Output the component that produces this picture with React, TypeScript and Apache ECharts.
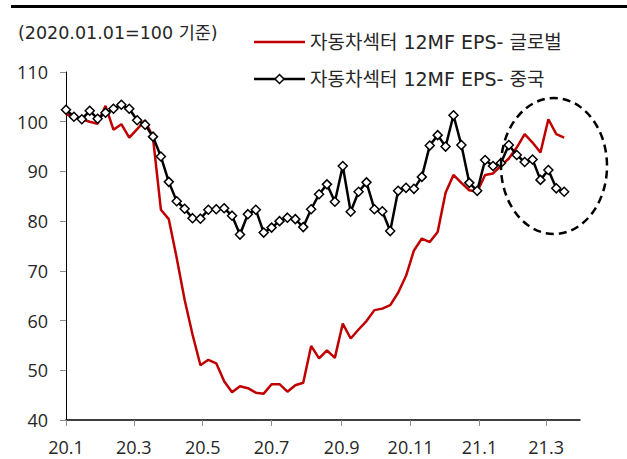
import React, { useEffect, useRef } from "react";
import * as echarts from "echarts";

// weekly observations starting 2020-01-01
const weekCount = 64;
const globalEPS = [
  101.5, 101.0, 100.5, 100.0, 99.6, 103.2, 98.4, 99.5, 96.8, 98.5,
  100.3, 96.8, 82.3, 80.4, 72.6, 64.2, 57.2, 51.0, 52.1, 51.4,
  47.8, 45.6, 46.8, 46.4, 45.5, 45.3, 47.2, 47.2, 45.7, 47.0,
  47.5, 54.9, 52.4, 54.0, 52.5, 59.4, 56.4, 58.2, 59.9, 62.1,
  62.4, 63.1, 65.6, 69.0, 74.1, 76.5, 75.8, 77.8, 85.7, 89.3,
  87.7, 86.2, 85.9, 89.3, 89.6, 91.1, 92.6, 94.8, 97.5, 95.8,
  93.8, 100.5, 97.5, 96.8,
];
const chinaEPS = [
  102.4, 101.0, 100.5, 102.2, 100.6, 101.8, 102.6, 103.4, 102.6, 100.3,
  99.4, 97.0, 93.0, 87.9, 84.0, 82.5, 80.6, 80.5, 82.3, 82.4,
  82.6, 81.1, 77.3, 81.4, 82.3, 77.7, 78.7, 80.0, 80.7, 80.4,
  78.8, 82.4, 85.4, 87.4, 83.9, 91.1, 81.9, 85.9, 87.8, 82.4,
  82.0, 78.0, 86.1, 86.7, 86.5, 88.9, 95.2, 97.3, 95.0, 101.3,
  95.3, 87.7, 86.1, 92.3, 91.1, 91.7, 95.3, 93.3, 91.9, 92.4,
  88.3, 90.3, 86.6, 85.9,
];
// x tick positions in days since 2020-01-01 (first day of each labelled month)
const tickDays = [0, 60, 121, 182, 244, 305, 366, 425];
const tickLabels = ["20.1", "20.3", "20.5", "20.7", "20.9", "20.11", "21.1", "21.3"];
const seriesNames = ["자동차섹터 12MF EPS- 글로벌", "자동차섹터 12MF EPS- 중국"];
const subtitle = "(2020.01.01=100 기준)";

const FONT = "'Open Sans', 'Noto Sans CJK KR', sans-serif";
const WIDE = "'DejaVu Sans', 'Noto Sans CJK KR', sans-serif";
const TXT = "#262626";

export default function App() {
  const ref = useRef<HTMLDivElement>(null);
  useEffect(() => {
    document.body.style.margin = "0";
    if (!ref.current) return;
    const chart = echarts.init(ref.current, undefined, { renderer: "svg" });
    const days = Array.from({ length: weekCount }, (_, i) => i * 7);
    const toPairs = (vals: number[]) => vals.map((v, i) => [days[i], v]);
    chart.setOption({
      animation: false,
      backgroundColor: "#fff",
      textStyle: { fontFamily: FONT },
      grid: { left: 66, right: 47, top: 72, bottom: 39 },
      xAxis: {
        type: "value",
        min: 0,
        max: 455,
        axisLine: { lineStyle: { color: "#000", width: 1.5 } },
        axisTick: {
          show: true,
          length: 6,
          lineStyle: { color: "#8c8c8c" },
          customValues: tickDays,
        },
        axisLabel: {
          customValues: tickDays,
          formatter: (v: number) => {
            const i = tickDays.indexOf(Math.round(v));
            return i >= 0 ? tickLabels[i] : "";
          },
          fontSize: 18,
          color: TXT,
          margin: 18,
          fontFamily: FONT,
        },
        splitLine: { show: false },
      },
      yAxis: {
        type: "value",
        min: 40,
        max: 110,
        interval: 10,
        axisLine: { show: true, lineStyle: { color: "#000", width: 1 } },
        axisTick: { show: true, length: 6, lineStyle: { color: "#8c8c8c" } },
        axisLabel: { fontSize: 18, color: TXT, margin: 18, fontFamily: FONT },
        splitLine: { show: false },
      },
      series: [
        {
          name: seriesNames[0],
          type: "line",
          data: toPairs(globalEPS),
          showSymbol: false,
          symbol: "none",
          lineStyle: { color: "#C00000", width: 2.5 },
          itemStyle: { color: "#C00000" },
          z: 2,
        },
        {
          name: seriesNames[1],
          type: "line",
          data: toPairs(chinaEPS),
          symbol: "diamond",
          symbolSize: 9,
          lineStyle: { color: "#000", width: 2.5 },
          itemStyle: { color: "#fff", borderColor: "#000", borderWidth: 1.5 },
          z: 3,
        },
      ],
      graphic: [
        {
          type: "rect",
          shape: { x: 11, y: 5, width: 616, height: 3 },
          style: { fill: "#000" },
          silent: true,
        },
        {
          type: "text",
          x: 18,
          y: 33,
          style: { text: subtitle, fontSize: 17.5, fill: TXT, fontFamily: WIDE, textVerticalAlign: "middle" },
        },
        // legend: global
        {
          type: "line",
          shape: { x1: 254, y1: 42, x2: 305, y2: 42 },
          style: { stroke: "#C00000", lineWidth: 2.5 },
        },
        {
          type: "text",
          x: 310,
          y: 42,
          style: { text: seriesNames[0], fontSize: 19, fill: TXT, fontFamily: WIDE, textVerticalAlign: "middle" },
        },
        // legend: china
        {
          type: "line",
          shape: { x1: 254, y1: 79, x2: 305, y2: 79 },
          style: { stroke: "#000", lineWidth: 2.5 },
        },
        {
          type: "polygon",
          shape: { points: [[279.5, 74.5], [284, 79], [279.5, 83.5], [275, 79]] },
          style: { fill: "#fff", stroke: "#000", lineWidth: 1.5 },
        },
        {
          type: "text",
          x: 310,
          y: 79,
          style: { text: seriesNames[1], fontSize: 19, fill: TXT, fontFamily: WIDE, textVerticalAlign: "middle" },
        },
        {
          type: "ellipse",
          shape: { cx: 554, cy: 166, rx: 53, ry: 68 },
          style: { fill: "none", stroke: "#000", lineWidth: 2.5, lineDash: [8, 5] },
          silent: true,
          z: 10,
        },
      ],
    });
    return () => chart.dispose();
  }, []);
  return <div ref={ref} style={{ width: 627, height: 459 }} />;
}
